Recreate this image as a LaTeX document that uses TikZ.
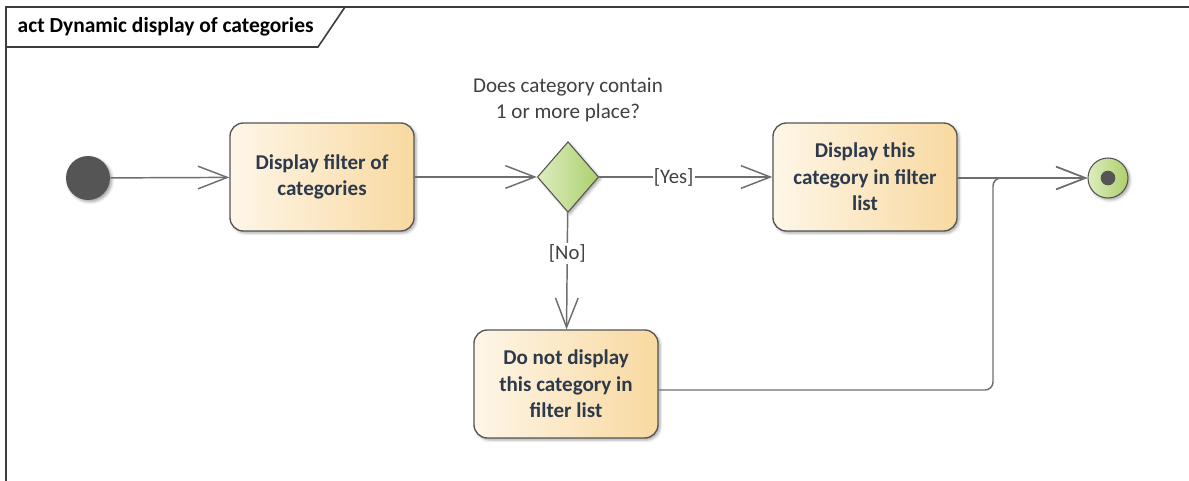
\documentclass[tikz,border=0pt]{standalone}
\usepackage{fontspec}
\setmainfont{Carlito}
\usetikzlibrary{shapes.geometric, arrows.meta, positioning, calc, shadows.blur}
\definecolor{actionlight}{HTML}{FEF6E8}
\definecolor{actiondark}{HTML}{F8D9A0}
\definecolor{decisionlight}{HTML}{DCEDC0}
\definecolor{decisiondark}{HTML}{ADD06C}
\definecolor{edgegray}{HTML}{6E6E6E}
\definecolor{nodegray}{HTML}{555555}
\definecolor{framegray}{HTML}{3C3C3C}
\definecolor{inkblue}{HTML}{2D3A4C}
\definecolor{notegray}{HTML}{404040}

\tikzset{
  action/.style={rounded corners=10pt, draw=nodegray, line width=1pt,
    left color=actionlight, right color=actiondark,
    minimum width=138pt, minimum height=81pt, align=center,
    text=inkblue, font=\fontsize{15.8}{20}\selectfont\bfseries,
    blur shadow={shadow xshift=1.5pt, shadow yshift=-1.5pt, shadow blur radius=2pt, shadow opacity=35}},
  decision/.style={diamond, draw=nodegray, line width=0.8pt,
    left color=decisionlight, right color=decisiondark,
    minimum width=46pt, minimum height=53pt, inner sep=0pt,
    blur shadow={shadow xshift=1.5pt, shadow yshift=-1.5pt, shadow blur radius=2pt, shadow opacity=35}},
  flow/.style={draw=edgegray, line width=1.1pt, -{Straight Barb[length=22pt, width=17pt, line width=1.1pt]}},
  guard/.style={fill=white, inner sep=1pt, text=notegray, font=\fontsize{15.5}{18}\selectfont}
}

\begin{document}
\begin{tikzpicture}[x=0.75pt, y=-0.75pt]
  \useasboundingbox (0,0) rectangle (1189,481);

  % Diagram frame with name tab
  \draw[framegray, line width=1.5pt] (6,481) -- (6,7) -- (1189,7);
  \draw[framegray, line width=1.2pt] (6,47) -- (318,47) -- (345,7);
  \node[anchor=west, text=black, font=\fontsize{16.1}{19}\selectfont\bfseries] (title) at (13,27) {act Dynamic display of categories};

  % Start and end points
  \node[circle, fill=nodegray, minimum size=33pt, inner sep=0pt,
    blur shadow={shadow xshift=1.5pt, shadow yshift=-1.5pt, shadow blur radius=2pt, shadow opacity=35}] (start) at (88,178) {};
  \node[circle, draw=nodegray, line width=0.8pt, left color=decisionlight, right color=decisiondark,
    minimum size=30pt, inner sep=0pt,
    blur shadow={shadow xshift=1.5pt, shadow yshift=-1.5pt, shadow blur radius=2pt, shadow opacity=35}] (final) at (1108,178) {};
  \fill[nodegray] (final.center) circle (5.5pt);

  % Activities
  \node[action] (showfilter) at (322,177) {Display filter of\\categories};
  \node[decision] (hasplace) at (568,177) {};
  \node[text=notegray, font=\fontsize{15.8}{20}\selectfont, align=center] (question) at (568,100) {Does category contain\\1 or more place?};
  \node[action] (showcat) at (865,177) {Display this\\category in filter\\list};
  \node[action] (hidecat) at (566,384) {Do not display\\this category in\\filter list};

  % Merge point before the end
  \coordinate (merge) at (993,178);

  % Control flows
  \draw[flow] (start) -- (showfilter);
  \draw[flow] (showfilter) -- (hasplace);
  \draw[flow] (hasplace) -- node[guard, pos=0.43] {[Yes]} (showcat);
  \draw[flow] (hasplace) -- node[guard, pos=0.35] {[No]} (hidecat);
  \draw[flow] (showcat.east |- final) -- (final);
  \draw[flow, rounded corners=6pt] (hidecat.east |- 0,390) -| (merge) -- (final);
\end{tikzpicture}
\end{document}
